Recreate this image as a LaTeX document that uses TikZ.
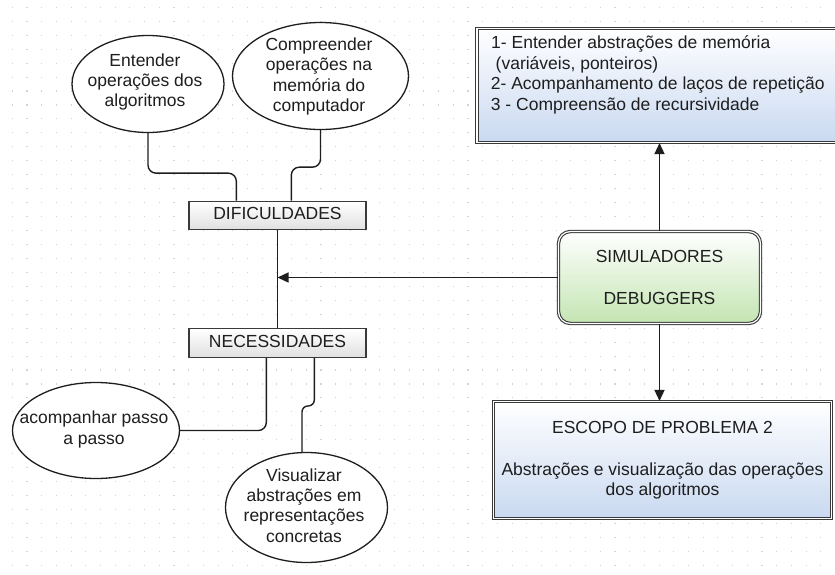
\documentclass[tikz,border=0pt]{standalone}
\usepackage{fontspec}
\setmainfont{Liberation Sans}
\usetikzlibrary{shapes.geometric,arrows.meta}

\definecolor{ink}{HTML}{1E1E1E}
\definecolor{frame}{HTML}{3A3A3A}
\definecolor{dotgray}{HTML}{D2D2D2}
\definecolor{panelblue}{HTML}{C9D9F1}
\definecolor{panelgreen}{HTML}{C3E5B2}

\tikzset{
  txt/.style={font=\fontsize{17.5pt}{20.3pt}\selectfont, text=ink, inner sep=0pt},
  bubble/.style={ellipse, draw=ink, line width=1.3pt, fill=white, inner sep=0pt},
  labelbox/.style={rectangle, draw=frame, line width=1.4pt, top color=white,
    bottom color=black!12, inner sep=0pt, minimum width=177pt, minimum height=28.5pt,
    text height=12.5pt, text depth=4.5pt, txt},
  panel/.style={rectangle, draw=frame, line width=1.1pt, double=white,
    double distance=1.2pt, top color=white, inner sep=0pt},
  conn/.style={draw=ink, line width=1.4pt, rounded corners=8pt},
  arrowconn/.style={conn, -{Triangle[length=11pt,width=10pt]}},
}

\begin{document}
\begin{tikzpicture}[x=1pt,y=-1pt]
  \useasboundingbox (0,0) rectangle (835,574);
  \clip (0,0) rectangle (835,574);
  \fill[white] (0,0) rectangle (835,574);

  % background dot grid
  \foreach \i in {0,...,56}
    \foreach \j in {0,...,40}
      \fill[dotgray] ({12.3+14.7*\i-0.55},{7.3+13.95*\j-0.55}) rectangle ++(1.1,1.1);

  % ellipses (difficulties and needs)
  \node[bubble, minimum width=152pt, minimum height=97pt] (e1) at (148,84) {};
  \node[txt, align=center] (e1t) at (145,82) {Entender\\operações dos\\algoritmos};

  \node[bubble, minimum width=176pt, minimum height=107pt] (e2) at (320.5,76) {};
  \node[txt, align=center] (e2t) at (319,76.5) {Compreender\\operações na\\memória do\\computador};

  \node[bubble, minimum width=167pt, minimum height=96pt] (e3) at (96,430.5) {};
  \node[txt, align=center] (e3t) at (94,429.5) {acompanhar passo\\a passo};

  \node[bubble, minimum width=162pt, minimum height=110pt] (e4) at (306.5,507.5) {};
  \node[txt, align=center] (e4t) at (304,505.5) {Visualizar\\abstrações em\\representações\\concretas};

  % central labels
  \node[labelbox] (dif) at (277.5,215.5) {DIFICULDADES};
  \node[labelbox] (nec) at (277.5,343) {NECESSIDADES};

  % right-hand panels
  \node[panel, bottom color=panelblue, minimum width=365pt, minimum height=114pt] (top) at (659.5,85.5) {};
  \node[txt, anchor=base west] (l1) at (491,48) {1- Entender abstrações de memória};
  \node[txt, anchor=base west] (l2) at (495.5,69) {(variáveis, ponteiros)};
  \node[txt, anchor=base west] (l3) at (490.7,89.5) {2- Acompanhamento de laços de repetição};
  \node[txt, anchor=base west] (l4) at (490.7,110) {3 - Compreensão de recursividade};

  \node[panel, rounded corners=12pt, bottom color=panelgreen, minimum width=202pt,
        minimum height=92pt, align=center, txt] (sim) at (659.5,277.5)
        {SIMULADORES\\[21.7pt]DEBUGGERS};

  \node[panel, bottom color=panelblue, minimum width=338pt, minimum height=117pt,
        align=center, txt] (esc) at (662.5,460)
        {ESCOPO DE PROBLEMA 2\\[21.7pt]Abstrações e visualização das operações\\dos algoritmos};

  % connectors
  \draw[conn] (e1.south) -- ++(0,40) -| ([xshift=48pt]dif.north west);
  \draw[conn] (e2.south) -- ++(0,37) -| ([xshift=103pt]dif.north west);
  \draw[conn] (dif.south) -- (nec.north);
  \draw[conn] ([xshift=78pt]nec.south west) |- (e3.east);
  \draw[conn, rounded corners=6pt] ([xshift=126pt]nec.south west) -- ++(0,48) -| ([xshift=-4.5pt]e4.north);

  \draw[arrowconn] (sim.west) -- (sim.west -| dif.south);
  \draw[arrowconn] (sim.north) -- (sim.north |- top.south);
  \draw[arrowconn] (sim.south) -- (sim.south |- esc.north);
\end{tikzpicture}
\end{document}
